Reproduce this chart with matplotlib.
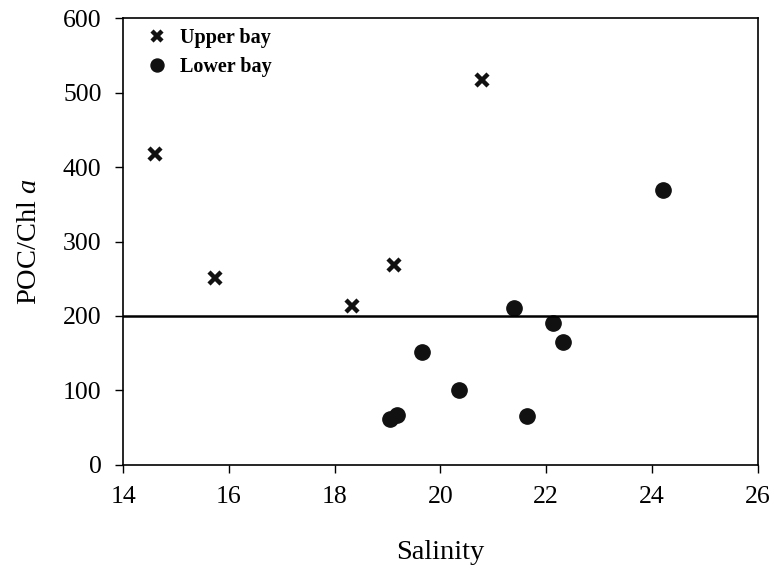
import numpy as np
import matplotlib
matplotlib.use("Agg")
import matplotlib.pyplot as plt

plt.rcParams['font.family'] = ['Liberation Serif', 'DejaVu Serif']
plt.rcParams['mathtext.fontset'] = 'custom'
plt.rcParams['mathtext.it'] = 'Liberation Serif:italic'
plt.rcParams['mathtext.rm'] = 'Liberation Serif'

# upper bay (crosses)
upper_sal = [14.60, 15.74, 18.32, 19.13, 20.78]
upper_ratio = [417, 251, 214, 268, 517]

# lower bay (circles)
lower_sal = [24.21, 21.39, 22.12, 22.31, 19.65, 20.35, 21.64, 19.05, 19.17]
lower_ratio = [369, 211, 191, 165, 151, 100, 65, 61, 67]

ref_level = 200

fig = plt.figure(figsize=(7.74, 5.71), dpi=100)
ax = fig.add_axes([0.159, 0.186, 0.820, 0.782])

ax.plot(upper_sal, upper_ratio, ls='none', marker='x', ms=9, mew=3.2,
        color='#111111', label='Upper bay')
ax.plot(lower_sal, lower_ratio, ls='none', marker='o', ms=11,
        color='#111111', label='Lower bay')
ax.axhline(ref_level, color='black', lw=1.8)

ax.set_xlim(14, 26)
ax.set_ylim(0, 600)
ax.set_xticks(np.arange(14, 27, 2))
ax.set_yticks(np.arange(0, 601, 100))
ax.tick_params(direction='out', length=5.5, width=1, labelsize=18.5, pad=10,
               top=False, right=False)
for s in ax.spines.values():
    s.set_linewidth(1.2)

ax.set_xlabel('Salinity', fontsize=20.5, labelpad=23)
ax.set_ylabel(r'POC/Chl $\mathit{a}$', fontsize=20.5, labelpad=15)

ax.legend(loc='upper left', frameon=False, prop={'weight': 'bold', 'size': 14.5},
          handletextpad=0.55, borderaxespad=0.1, labelspacing=0.45,
          bbox_to_anchor=(0.018, 1.0), markerscale=0.85, handlelength=1.2)

fig.savefig('out.png', dpi=100)
